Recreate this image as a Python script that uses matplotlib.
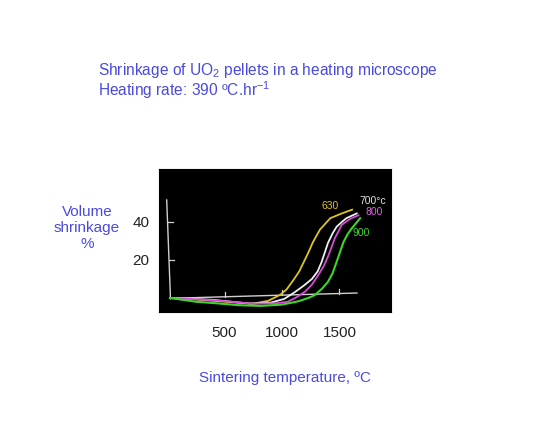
import matplotlib
matplotlib.use("Agg")
import matplotlib.pyplot as plt

plt.rcParams['font.family'] = ['Liberation Sans', 'DejaVu Sans']
plt.rcParams['mathtext.fontset'] = 'custom'
plt.rcParams['mathtext.rm'] = 'Liberation Sans'
plt.rcParams['mathtext.it'] = 'Liberation Sans:italic'

# Data (sintering temperature in deg C, volume shrinkage in %)
t630 = [25, 300, 550, 750, 880, 983, 1040, 1100, 1150, 1190, 1226, 1270, 1330, 1420, 1520, 1610]
s630 = [0, -1, -2.2, -3, -1.5, 1.6, 4.5, 9.5, 14, 19, 23.5, 29.5, 36, 42, 44.5, 46.5]

t700 = [25, 400, 720, 900, 1020, 1110, 1190, 1260, 1310, 1345, 1400, 1440, 1475, 1520, 1560, 1650]
s700 = [0, -1, -3, -2.5, -0.5, 3, 6.5, 10, 14, 19, 29, 34, 37.5, 40, 42, 44.5]

t800 = [25, 400, 750, 950, 1050, 1130, 1200, 1260, 1315, 1365, 1405, 1460, 1520, 1565, 1605, 1665]
s800 = [0, -1.2, -3, -2.8, -2, 0.5, 3.3, 7, 12, 17, 22.5, 31.5, 38.5, 40.5, 42, 43.5]

t900 = [25, 250, 430, 620, 810, 1000, 1140, 1230, 1285, 1350, 1400, 1440, 1475, 1535, 1570, 1605, 1680]
s900 = [0, -2, -2.8, -3.8, -4.2, -3.5, -1.8, 0, 1.5, 5, 8.5, 13, 19, 29.5, 33.5, 36.5, 42]

series_labels = ["630", "700°c", "800", "900"]
xticks = [500, 1000, 1500]
yticks = [20, 40]

blue = "#4a4ae0"

fig = plt.figure(figsize=(5.6, 4.48), dpi=100)
fig.patch.set_facecolor("white")

ax = fig.add_axes([159/560, 1 - 312/448, 232/560, 143/448])
ax.set_facecolor("black")
ax.set_xlim(-70, 1948)
ax.set_ylim(-7.4, 67.9)
for sp in ax.spines.values():
    sp.set_color("black")

# hand drawn axes
axc = "#d0d0d0"
ax.plot([-3, 30], [51.6, -0.5], color=axc, lw=1.0)
ax.plot([30, 1652], [-0.2, 2.6], color=axc, lw=1.0)
for xt in xticks:
    yb = -0.2 + 2.8 * (xt - 30) / 1622
    ax.plot([xt, xt], [yb, yb + 2.6], color=axc, lw=0.9)
for yt in yticks:
    x0 = -3 + 33 * (51.6 - yt) / 52.1
    ax.plot([x0, x0 + 45], [yt, yt], color=axc, lw=0.9)

# curves
ax.plot(t630, s630, color="#e0c41c", lw=1.3)
ax.plot(t700, s700, color="#f0f0f0", lw=1.3)
ax.plot(t800, s800, color="#d84ad8", lw=1.3)
ax.plot(t900, s900, color="#3fd42a", lw=1.5)

# curve labels
lab_kw = dict(fontsize=7.5, ha="center", va="center")
ax.text(1417, 48.4, series_labels[0], color="#e0c41c", **lab_kw)
ax.text(1790, 51, series_labels[1], color="#e0e0e0", **lab_kw)
ax.text(1800, 45.5, series_labels[2], color="#e060e0", **lab_kw)
ax.text(1687, 34, series_labels[3], color="#3fd42a", **lab_kw)

ax.set_xticks(xticks)
ax.set_yticks(yticks)
ax.set_xticklabels([str(v) for v in xticks])
ax.set_yticklabels([str(v) for v in yticks])
ax.tick_params(axis="both", length=0, labelsize=11, labelcolor="#222222")
ax.tick_params(axis="x", pad=10)
ax.tick_params(axis="y", pad=7)

# texts
fig.text(98/560, 1 - 70/448, r"Shrinkage of UO$_\mathregular{2}$ pellets in a heating microscope",
         color=blue, fontsize=11.2, ha="left", va="center")
fig.text(98/560, 1 - 90/448, r"Heating rate: 390 ºC.hr$^\mathregular{-1}$",
         color=blue, fontsize=11.2, ha="left", va="center")
fig.text(87/560, 1 - 228/448, "Volume\nshrinkage\n%", color=blue, fontsize=11,
         ha="center", va="center", linespacing=1.15)
fig.text(285/560, 1 - 378/448, "Sintering temperature, ºC", color=blue, fontsize=11,
         ha="center", va="center")

fig.savefig("out.png", dpi=100)
